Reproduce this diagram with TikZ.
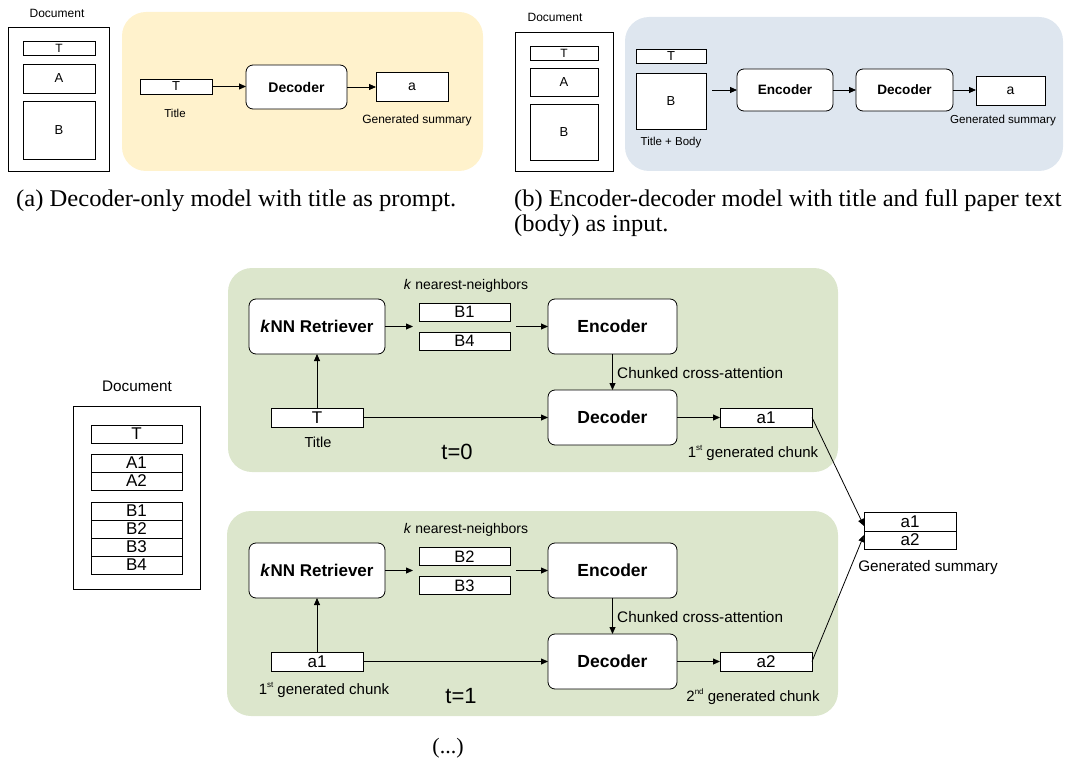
\documentclass[tikz,border=0pt]{standalone}
\usepackage{fontspec}
\setmainfont{Liberation Sans}
\newfontfamily\capfont{Liberation Serif}
\usetikzlibrary{arrows.meta}
\newcommand\sz[1]{\fontsize{#1}{#1}\selectfont}
\newcommand\ordsup[1]{\raisebox{0.45em}{\fontsize{8}{8}\selectfont #1}}
\definecolor{panelyellow}{HTML}{FFF2CC}
\definecolor{panelblue}{HTML}{DEE6EF}
\definecolor{panelgreen}{HTML}{DCE6CC}
\begin{document}
\begin{tikzpicture}[x={(1pt,0)}, y={(0,-1pt)},
  plainbox/.style={draw=black, line width=0.8pt, fill=white, inner sep=0pt, outer sep=0pt},
  blockbox/.style={plainbox, rounded corners=7pt},
  panel/.style={rounded corners=24pt},
  lbl/.style={inner sep=0pt},
  arr/.style={-{Triangle[length=7pt,width=6pt]}, line width=0.8pt},
  caption/.style={inner sep=0pt, font=\capfont\sz{24}}
]
\useasboundingbox (0,0) rectangle (1068,762);

% ---------- (a) decoder-only ----------
\node[lbl, font=\sz{12}] (docAlbl) at (57,13) {Document};
\node[plainbox, minimum width=101pt, minimum height=144pt] (docA) at (58.5,99) {};
\node[plainbox, minimum width=72pt, minimum height=14pt, font=\sz{12}] (docAT) at (59,48) {T};
\node[plainbox, minimum width=72pt, minimum height=29pt, font=\sz{13}] (docAA) at (59,78.5) {A};
\node[plainbox, minimum width=72pt, minimum height=58pt, font=\sz{13}] (docAB) at (59,130) {B};

\fill[panelyellow, panel] (122,12) rectangle (483,171);
\node[plainbox, minimum width=72pt, minimum height=15pt, font=\sz{13}] (aT) at (176,86.5) {T};
\node[lbl, font=\sz{11.5}] (aTitle) at (175,113) {Title};
\node[blockbox, minimum width=101pt, minimum height=44pt, font=\sz{14}\bfseries] (aDec) at (296.5,87) {Decoder};
\node[plainbox, minimum width=72pt, minimum height=29pt, font=\sz{14}] (aOut) at (412,86.5) {a};
\node[lbl, font=\sz{12}] (aSum) at (417,120) {Generated summary};
\draw[arr] (aT.east) -- (aT.east -| aDec.west);
\draw[arr] (aDec.east) -- (aDec.east -| aOut.west);

% ---------- (b) encoder-decoder ----------
\node[lbl, font=\sz{12}] (docBlbl) at (555,17) {Document};
\node[plainbox, minimum width=98pt, minimum height=139pt] (docB) at (564,101.5) {};
\node[plainbox, minimum width=68pt, minimum height=14pt, font=\sz{12}] (docBT) at (564,53) {T};
\node[plainbox, minimum width=68pt, minimum height=28pt, font=\sz{13}] (docBA) at (564,82) {A};
\node[plainbox, minimum width=68pt, minimum height=56pt, font=\sz{13}] (docBB) at (564,132) {B};

\fill[panelblue, panel] (625,17) rectangle (1063,171);
\node[plainbox, minimum width=70pt, minimum height=14pt, font=\sz{13}] (bT) at (671,56) {T};
\node[plainbox, minimum width=70pt, minimum height=56pt, font=\sz{13}] (bB) at (671,101) {B};
\node[lbl, font=\sz{11.5}] (bTitle) at (671,143) {Title + Body};
\node[blockbox, minimum width=96pt, minimum height=42pt, font=\sz{13.6}\bfseries] (bEnc) at (785,90) {Encoder};
\node[blockbox, minimum width=97pt, minimum height=42pt, font=\sz{13.6}\bfseries] (bDec) at (904.5,90) {Decoder};
\node[plainbox, minimum width=69pt, minimum height=29pt, font=\sz{14}] (bOut) at (1010.5,90.5) {a};
\node[lbl, font=\sz{11.6}] (bSum) at (1003,121) {Generated summary};
\coordinate (bIn) at (712,90);
\draw[arr] (bIn) -- (bEnc.west);
\draw[arr] (bEnc.east) -- (bDec.west);
\draw[arr] (bDec.east) -- (bDec.east -| bOut.west);

% ---------- captions ----------
\node[caption, anchor=west] (capA) at (16,201) {\scalebox{1.025}[1]{(a) Decoder-only model with title as prompt.}};
\node[caption, anchor=west] (capB1) at (514,201) {\scalebox{1.02}[1]{(b) Encoder-decoder model with title and full paper text}};
\node[caption, anchor=west] (capB2) at (514,226) {\scalebox{1.02}[1]{(body) as input.}};

% ---------- retrieval-augmented generation ----------
\node[lbl, font=\sz{15.3}] (docClbl) at (137,386) {Document};
\node[plainbox, minimum width=127pt, minimum height=183pt] (docC) at (136.5,497.5) {};
\foreach \nm/\txt/\yy in {T/T/434, A1/A1/463, A2/A2/481, B1/B1/511, B2/B2/529, B3/B3/547, B4/B4/565}
  \node[plainbox, minimum width=91pt, minimum height=18pt, font=\sz{17}] (docC\nm) at (136.5,\yy) {\txt};

% step t=0
\fill[panelgreen, panel] (228,268) rectangle (838,472);
\node[blockbox, minimum width=136pt, minimum height=55pt, font=\sz{17}\bfseries] (ret0) at (317,326.5) {\textit{k}NN Retriever};
\node[lbl, font=\sz{14}] (knn0) at (466,286) {\textit{k} nearest-neighbors};
\node[plainbox, minimum width=91pt, minimum height=18pt, font=\sz{16.5}] (nb01) at (464.5,312) {B1};
\node[plainbox, minimum width=91pt, minimum height=18pt, font=\sz{16.5}] (nb02) at (464.5,341) {B4};
\node[blockbox, minimum width=129pt, minimum height=55pt, font=\sz{17.5}\bfseries] (enc0) at (612.5,326.5) {Encoder};
\node[blockbox, minimum width=129pt, minimum height=55pt, font=\sz{17.5}\bfseries] (dec0) at (612.5,417.5) {Decoder};
\node[lbl, font=\sz{15.3}, anchor=west] (cca0) at (617,373) {Chunked cross-attention};
\node[plainbox, minimum width=92pt, minimum height=19pt, font=\sz{17}] (in0) at (317,417.5) {T};
\node[lbl, font=\sz{14.5}] (in0lbl) at (318,442) {Title};
\node[lbl, font=\sz{22}] (t0) at (457,452) {t=0};
\node[plainbox, minimum width=92pt, minimum height=19pt, font=\sz{17}] (out0) at (766,417.5) {a1};
\node[lbl, font=\sz{15}] (out0lbl) at (753,453) {1\ordsup{st} generated chunk};
\coordinate (nb0in) at (413,326.5);
\coordinate (nb0out) at (516,326.5);
\draw[arr] (ret0.east) -- (nb0in);
\draw[arr] (nb0out) -- (enc0.west);
\draw[arr] (enc0.south) -- (dec0.north);
\draw[arr] (in0.north) -- (ret0.south);
\draw[arr] (in0.east) -- (dec0.west);
\draw[arr] (dec0.east) -- (out0.west);

% step t=1
\fill[panelgreen, panel] (227,511) rectangle (838,716);
\node[blockbox, minimum width=136pt, minimum height=55pt, font=\sz{17}\bfseries] (ret1) at (317,570.5) {\textit{k}NN Retriever};
\node[lbl, font=\sz{14}] (knn1) at (466,530) {\textit{k} nearest-neighbors};
\node[plainbox, minimum width=91pt, minimum height=18pt, font=\sz{16.5}] (nb11) at (464.5,556.5) {B2};
\node[plainbox, minimum width=91pt, minimum height=18pt, font=\sz{16.5}] (nb12) at (464.5,585.5) {B3};
\node[blockbox, minimum width=129pt, minimum height=55pt, font=\sz{17.5}\bfseries] (enc1) at (612.5,570.5) {Encoder};
\node[blockbox, minimum width=129pt, minimum height=55pt, font=\sz{17.5}\bfseries] (dec1) at (612.5,661.5) {Decoder};
\node[lbl, font=\sz{15.3}, anchor=west] (cca1) at (617,617) {Chunked cross-attention};
\node[plainbox, minimum width=92pt, minimum height=19pt, font=\sz{17}] (in1) at (317,661.5) {a1};
\node[lbl, font=\sz{15}] (in1lbl) at (324,690) {1\ordsup{st} generated chunk};
\node[lbl, font=\sz{22}] (t1) at (461,696) {t=1};
\node[plainbox, minimum width=92pt, minimum height=19pt, font=\sz{17}] (out1) at (766,661.5) {a2};
\node[lbl, font=\sz{15}] (out1lbl) at (753,697) {2\ordsup{nd} generated chunk};
\coordinate (nb1in) at (413,570.5);
\coordinate (nb1out) at (516,570.5);
\draw[arr] (ret1.east) -- (nb1in);
\draw[arr] (nb1out) -- (enc1.west);
\draw[arr] (enc1.south) -- (dec1.north);
\draw[arr] (in1.north) -- (ret1.south);
\draw[arr] (in1.east) -- (dec1.west);
\draw[arr] (dec1.east) -- (out1.west);

% final summary
\node[plainbox, minimum width=92pt, minimum height=19pt, font=\sz{17}] (sum1) at (910,521.5) {a1};
\node[plainbox, minimum width=92pt, minimum height=18pt, font=\sz{17}] (sum2) at (910,540) {a2};
\node[lbl, font=\sz{15.3}] (sumlbl) at (928,568) {Generated summary};
\draw[arr] (out0.east) -- ([yshift=-4.5pt]sum1.west);
\draw[arr] (out1.east) -- ([yshift=5pt]sum2.west);

\node[lbl, font=\capfont\sz{22}] (more) at (448,748) {(...)};
\end{tikzpicture}
\end{document}
